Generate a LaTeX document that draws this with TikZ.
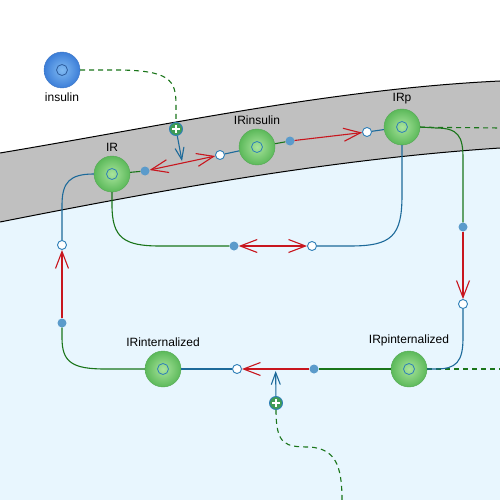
\documentclass[tikz,border=0pt]{standalone}
\usepackage{fontspec}
\setmainfont{Liberation Sans}
\usepackage{tikz}
\usetikzlibrary{arrows.meta}
\usetikzlibrary{positioning}
\definecolor{membGrey}{HTML}{C0C0C0}
\definecolor{cytoBlue}{HTML}{E8F6FE}
\definecolor{specIn}{HTML}{A8E49C}
\definecolor{specOut}{HTML}{5CB95A}
\definecolor{specBorder}{HTML}{52A852}
\definecolor{insIn}{HTML}{80BAF2}
\definecolor{insOut}{HTML}{3C7ED8}
\definecolor{insBorder}{HTML}{3A74C4}
\definecolor{ringBlue}{HTML}{2E7FB8}
\definecolor{dotBlue}{HTML}{5B9BCB}
\definecolor{linkGreen}{HTML}{1A751A}
\definecolor{linkBlue}{HTML}{1D6A9A}
\definecolor{rxnRed}{HTML}{C8161E}
\definecolor{plusGreen}{HTML}{3F9C55}
\tikzstyle{species} = [circle, minimum size=36pt, inner sep=0pt, draw=specBorder, inner color=specIn, outer color=specOut,
    path picture={\draw[ringBlue, line width=0.8pt] (path picture bounding box.center) circle (5.5pt);}]
\tikzstyle{ligand} = [species, draw=insBorder, inner color=insIn, outer color=insOut,
    path picture={\draw[insBorder!80!black, line width=0.8pt] (path picture bounding box.center) circle (5.5pt);}]
\tikzstyle{spname} = [font=\fontsize{12}{14}\selectfont]
\tikzstyle{pdot} = [circle, minimum size=9pt, inner sep=0pt, fill=dotBlue]
\tikzstyle{pring} = [circle, minimum size=9pt, inner sep=0pt, draw=ringBlue, fill=white, line width=0.9pt]
\tikzstyle{plus} = [circle, minimum size=13pt, inner sep=0pt, fill=plusGreen, draw=ringBlue, line width=0.9pt,
    path picture={\draw[white, line width=1.7pt] ([xshift=-4pt]path picture bounding box.center) -- ([xshift=4pt]path picture bounding box.center)
        ([yshift=-4pt]path picture bounding box.center) -- ([yshift=4pt]path picture bounding box.center);}]
\tikzstyle{inlink} = [draw=linkGreen, line width=1.1pt]
\tikzstyle{outlink} = [draw=linkBlue, line width=1.1pt]
\tikzstyle{rxn} = [draw=rxnRed, line width=1.1pt, >={Straight Barb[length=17pt,width=13pt]}]
\tikzstyle{modlink} = [draw=linkBlue, line width=1.1pt, -{Straight Barb[length=12pt,width=9pt]}, shorten >=2pt]
\tikzstyle{dashlink} = [draw=linkGreen, line width=1.1pt, dash pattern=on 5pt off 4pt]

\begin{document}
\begin{tikzpicture}[x=1pt, y=-1pt, node distance=1pt]
    \useasboundingbox (0,0) rectangle (500,500);
    % compartments
    \fill[cytoBlue] (0,222) .. controls (167,189) and (333,159) .. (500,148) -- (500,500) -- (0,500) -- cycle;
    \fill[membGrey] (0,153) .. controls (167,125) and (333,89) .. (500,81) -- (500,148) .. controls (333,159) and (167,189) .. (0,222) -- cycle;
    \draw[line width=1pt] (0,153) .. controls (167,125) and (333,89) .. (500,81);
    \draw[line width=1pt] (0,222) .. controls (167,189) and (333,159) .. (500,148);

    % species
    \node[ligand] (insulin) at (62,70) {};
    \node[species] (IR) at (112,174) {};
    \node[species] (IRinsulin) at (257,147) {};
    \node[species] (IRp) at (402,127) {};
    \node[species] (IRint) at (163,369) {};
    \node[species] (IRpint) at (409,369) {};
    \node[spname, below=of insulin] {insulin};
    \node[spname, above=of IR] {IR};
    \node[spname, above=of IRinsulin] {IRinsulin};
    \node[spname, above=of IRp] {IRp};
    \node[spname, above=of IRint] {IRinternalized};
    \node[spname, above=of IRpint] {IRpinternalized};

    % processes
    \node[pdot] (d1) at (145,171) {};
    \node[pring] (o1) at (220,155) {};
    \node[pdot] (d2) at (290,141) {};
    \node[pring] (o2) at (367,132) {};
    \node[pdot] (d3) at (234,246) {};
    \node[pring] (o3) at (312,246) {};
    \node[pdot] (d4) at (463,227) {};
    \node[pring] (o4) at (463,304) {};
    \node[pdot] (d5) at (314,369) {};
    \node[pring] (o5) at (237,369) {};
    \node[pdot] (d6) at (62,323) {};
    \node[pring] (o6) at (62,245) {};
    \node[plus] (p1) at (176,129) {};
    \node[plus] (p2) at (276,403) {};
    \coordinate (rimTop) at (500,128);
    \coordinate (rimBot) at (500,369);
    \coordinate (offBot) at (342,500);

    % links
    \draw[dashlink] (IRp) -- (rimTop);
    \draw[dashlink] (IRpint) -- (rimBot);
    \draw[dashlink] (insulin) -- (115,70) .. controls (170,70) and (176,80) .. (176,105) -- (p1);
    \draw[dashlink] (p2) .. controls (276,445) and (285,447) .. (310,447) .. controls (335,449) and (342,465) .. (offBot);
    \draw[inlink] (IR) -- (d1);
    \draw[outlink] (o1) -- (IRinsulin);
    \draw[inlink] (IRinsulin) -- (d2);
    \draw[outlink] (o2) -- (IRp);
    \draw[inlink] (IR.south) -- (112,205) .. controls (112,238) and (124,246) .. (160,246) -- (d3);
    \draw[outlink] (o3) -- (350,246) .. controls (392,246) and (402,236) .. (402,195) -- (IRp.south);
    \draw[inlink] (IRp.east) -- (436,128) .. controls (458,128) and (463,136) .. (463,158) -- (d4);
    \draw[outlink] (o4) -- (463,338) .. controls (463,362) and (456,369) .. (436,369) -- (IRpint.east);
    \draw[inlink] (IRpint) -- (d5);
    \draw[outlink] (o5) -- (IRint);
    \draw[inlink] (IRint.west) -- (105,369) .. controls (72,369) and (62,362) .. (62,338) -- (d6);
    \draw[outlink] (o6) -- (62,205) .. controls (62,182) and (70,174) .. (IR.west);

    % reactions
    \draw[rxn, <->] (d1) -- coordinate (m1) (o1);
    \draw[rxn, ->] (d2) -- (o2);
    \draw[rxn, <->] (d3) -- (o3);
    \draw[rxn, ->] (d4) -- (o4);
    \draw[rxn, ->] (d5) -- coordinate (m5) (o5);
    \draw[rxn, ->] (d6) -- (o6);
    \draw[modlink] (p1) -- (m1);
    \draw[modlink] (p2) -- (m5);
\end{tikzpicture}
\end{document}
